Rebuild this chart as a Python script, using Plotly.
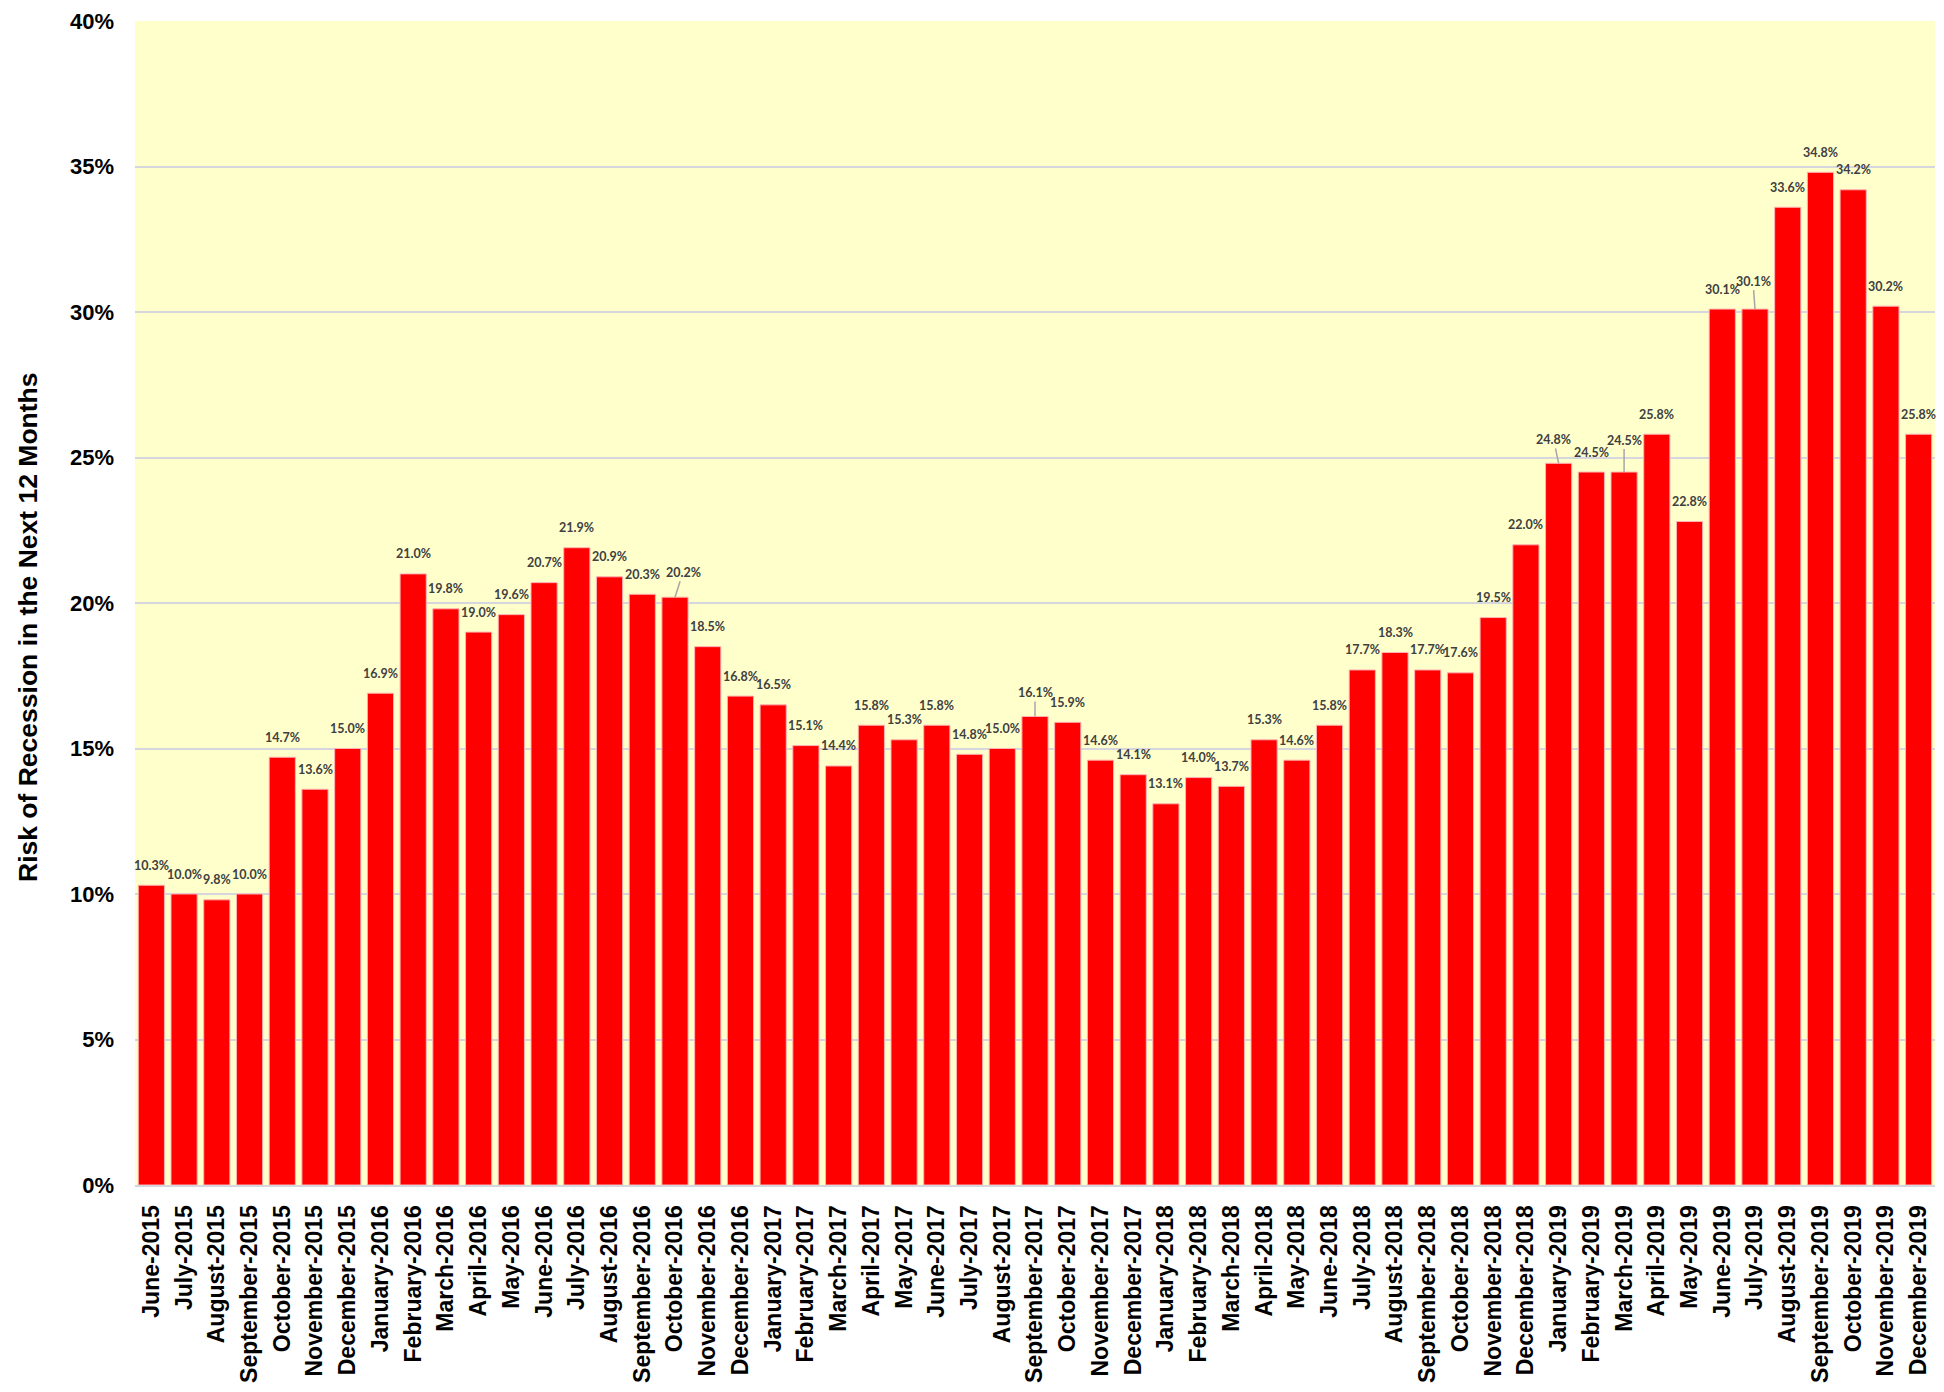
import plotly.graph_objects as go

months = [
    "June-2015", "July-2015", "August-2015", "September-2015", "October-2015", "November-2015", "December-2015",
    "January-2016", "February-2016", "March-2016", "April-2016", "May-2016", "June-2016", "July-2016",
    "August-2016", "September-2016", "October-2016", "November-2016", "December-2016",
    "January-2017", "February-2017", "March-2017", "April-2017", "May-2017", "June-2017", "July-2017",
    "August-2017", "September-2017", "October-2017", "November-2017", "December-2017",
    "January-2018", "February-2018", "March-2018", "April-2018", "May-2018", "June-2018", "July-2018",
    "August-2018", "September-2018", "October-2018", "November-2018", "December-2018",
    "January-2019", "February-2019", "March-2019", "April-2019", "May-2019", "June-2019", "July-2019",
    "August-2019", "September-2019", "October-2019", "November-2019", "December-2019",
]
risk_pct = [
    10.3, 10.0, 9.8, 10.0, 14.7, 13.6, 15.0,
    16.9, 21.0, 19.8, 19.0, 19.6, 20.7, 21.9, 20.9, 20.3, 20.2, 18.5, 16.8,
    16.5, 15.1, 14.4, 15.8, 15.3, 15.8, 14.8, 15.0, 16.1, 15.9, 14.6, 14.1,
    13.1, 14.0, 13.7, 15.3, 14.6, 15.8, 17.7, 18.3, 17.7, 17.6, 19.5, 22.0,
    24.8, 24.5, 24.5, 25.8, 22.8, 30.1, 30.1, 33.6, 34.8, 34.2, 30.2, 25.8,
]
y_ticks = [0, 5, 10, 15, 20, 25, 30, 35, 40]
y_title = "Risk of Recession in the Next 12 Months"

# labels drawn with a leader line: month -> (dx, dy) pixel offset of label
leader = {
    "October-2016": (8, -25),
    "September-2017": (0, -24),
    "January-2019": (-5, -24),
    "March-2019": (0, -32),
    "July-2019": (-2, -28),
}

fig = go.Figure()
fig.add_trace(go.Bar(
    x=months, y=risk_pct,
    marker=dict(color="#FF0000", line=dict(color="#FFB3B3", width=1)),
    hoverinfo="x+y",
))

annotations = []
for m, v in zip(months, risk_pct):
    txt = f"{v:.1f}%"
    font = dict(family="Lato, Open Sans, sans-serif", size=12.5, color="#404040", weight="bold")
    if m in leader:
        dx, dy = leader[m]
        annotations.append(dict(
            x=m, y=v, xref="x", yref="y", text=txt, showarrow=True,
            ax=dx, ay=dy, arrowhead=0, arrowwidth=1.5, arrowcolor="#A6A6A6",
            standoff=0, startstandoff=0, font=font,
        ))
    else:
        annotations.append(dict(
            x=m, y=v, xref="x", yref="y", text=txt, showarrow=False,
            yshift=20, font=font,
        ))

annotations.append(dict(
    x=0, y=0.5, xref="paper", yref="paper", text=y_title, showarrow=False,
    textangle=-90, xanchor="center", yanchor="middle", xshift=-107, yshift=-24,
    borderpad=0,
    font=dict(size=26.5, weight="bold", family="Liberation Sans, Arial, sans-serif", color="black"),
))

fig.update_layout(
    width=1928, height=1376,
    margin=dict(l=127, r=1, t=9, b=194),
    paper_bgcolor="white",
    plot_bgcolor="#FFFFCC",
    bargap=0.2,
    showlegend=False,
    annotations=annotations,
    font=dict(family="Liberation Sans, Arial, sans-serif", color="black"),
)
fig.update_yaxes(
    range=[0, 40],
    tickvals=y_ticks,
    ticktext=[f"{t}%" for t in y_ticks],
    tickfont=dict(size=22, weight="bold", family="Liberation Sans, Arial, sans-serif"),
    ticklabelstandoff=20,
    ticklabeloverflow="allow",
    showgrid=True, gridcolor="#D6D6DE", gridwidth=2,
    zeroline=False,
)
fig.update_xaxes(
    tickangle=-90,
    tickfont=dict(size=23, weight="bold", family="Liberation Sans, Arial, sans-serif"),
    ticklabelstandoff=9,
    showline=True, linecolor="#D6D6DE", linewidth=2,
    range=[-0.5, len(months) - 0.5],
)

fig.write_html("out.html")
